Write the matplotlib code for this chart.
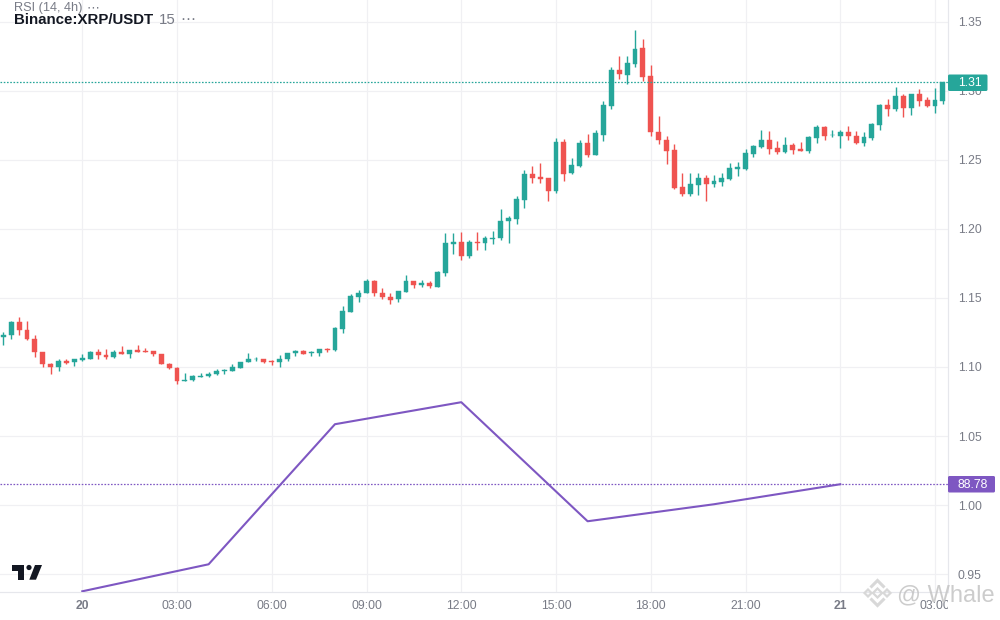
import numpy as np
import matplotlib
matplotlib.use("Agg")
import matplotlib.pyplot as plt
from matplotlib.patches import Polygon, Circle, FancyBboxPatch
from matplotlib.transforms import Bbox

plt.rcParams['font.family'] = ['Liberation Sans', 'DejaVu Sans']

# 15 minute candles, first one is 10 bars before the "20" tick
opens = [1.1215, 1.1230, 1.1329, 1.1271, 1.1205, 1.1111, 1.1024, 1.0998, 1.1046, 1.1034,
         1.1053, 1.1061, 1.1111, 1.1090, 1.1075, 1.1111, 1.1092, 1.1126, 1.1118, 1.1118,
         1.1097, 1.1024, 1.0995, 1.0896, 1.0904, 1.0930, 1.0933, 1.0947, 1.0971, 1.0969,
         1.0995, 1.1034, 1.1056, 1.1061, 1.1046, 1.1034, 1.1056, 1.1099, 1.1118, 1.1101,
         1.1099, 1.1133, 1.1121, 1.1278, 1.1401, 1.1510, 1.1534, 1.1619, 1.1539, 1.1510,
         1.1491, 1.1541, 1.1619, 1.1592, 1.1611, 1.1582, 1.1679, 1.1889, 1.1908, 1.1802,
         1.1908, 1.1896, 1.1925, 1.1932, 1.2056, 1.2070, 1.2208, 1.2394, 1.2372, 1.2365,
         1.2273, 1.2626, 1.2403, 1.2454, 1.2618, 1.2534, 1.2682, 1.2891, 1.3150, 1.3114,
         1.3193, 1.3308, 1.3107, 1.2704, 1.2646, 1.2567, 1.2301, 1.2251, 1.2315, 1.2366,
         1.2323, 1.2337, 1.2358, 1.2430, 1.2430, 1.2538, 1.2589, 1.2646, 1.2582, 1.2553,
         1.2603, 1.2574, 1.2560, 1.2654, 1.2740, 1.2677, 1.2675, 1.2704, 1.2675, 1.2618,
         1.2654, 1.2754, 1.2898, 1.2869, 1.2963, 1.2877, 1.2977, 1.2934, 1.2891, 1.2927]
highs = [1.1256, 1.1336, 1.1365, 1.1336, 1.1234, 1.1111, 1.1032, 1.1061, 1.1061, 1.1061,
         1.1097, 1.1118, 1.1133, 1.1133, 1.1126, 1.1155, 1.1126, 1.1162, 1.1140, 1.1118,
         1.1097, 1.1032, 1.1003, 1.0959, 1.0945, 1.0959, 1.0966, 1.0983, 1.0983, 1.1024,
         1.1039, 1.1104, 1.1075, 1.1061, 1.1053, 1.1090, 1.1104, 1.1126, 1.1126, 1.1114,
         1.1133, 1.1140, 1.1292, 1.1444, 1.1531, 1.1560, 1.1640, 1.1626, 1.1575, 1.1532,
         1.1553, 1.1669, 1.1619, 1.1633, 1.1619, 1.1698, 1.1966, 1.1966, 1.1974, 1.1916,
         1.1974, 1.1945, 1.1981, 1.2140, 1.2089, 1.2234, 1.2423, 1.2452, 1.2473, 1.2365,
         1.2655, 1.2647, 1.2510, 1.2640, 1.2684, 1.2713, 1.2927, 1.3171, 1.3251, 1.3251,
         1.3438, 1.3373, 1.3186, 1.2819, 1.2675, 1.2610, 1.2402, 1.2402, 1.2402, 1.2387,
         1.2387, 1.2402, 1.2474, 1.2481, 1.2574, 1.2603, 1.2718, 1.2711, 1.2632, 1.2661,
         1.2618, 1.2625, 1.2675, 1.2754, 1.2747, 1.2718, 1.2718, 1.2747, 1.2711, 1.2697,
         1.2769, 1.2905, 1.2941, 1.3028, 1.2977, 1.2977, 1.3013, 1.2956, 1.3020, 1.3061]
lows = [1.1157, 1.1201, 1.1230, 1.1193, 1.1070, 1.0998, 1.0947, 1.0969, 1.1019, 1.1005,
        1.1041, 1.1056, 1.1061, 1.1056, 1.1063, 1.1092, 1.1063, 1.1111, 1.1106, 1.1077,
        1.1019, 1.0983, 1.0875, 1.0896, 1.0901, 1.0925, 1.0930, 1.0945, 1.0947, 1.0969,
        1.0995, 1.1034, 1.1041, 1.1027, 1.1012, 1.0998, 1.1041, 1.1077, 1.1092, 1.1077,
        1.1077, 1.1106, 1.1114, 1.1249, 1.1401, 1.1473, 1.1534, 1.1512, 1.1491, 1.1454,
        1.1469, 1.1541, 1.1570, 1.1577, 1.1570, 1.1577, 1.1657, 1.1821, 1.1773, 1.1788,
        1.1846, 1.1846, 1.1889, 1.1918, 1.1896, 1.2034, 1.2150, 1.2331, 1.2331, 1.2200,
        1.2258, 1.2345, 1.2396, 1.2447, 1.2519, 1.2534, 1.2632, 1.2869, 1.3085, 1.3049,
        1.3171, 1.3071, 1.2668, 1.2610, 1.2466, 1.2287, 1.2236, 1.2236, 1.2243, 1.2200,
        1.2301, 1.2308, 1.2351, 1.2380, 1.2423, 1.2517, 1.2582, 1.2538, 1.2538, 1.2546,
        1.2538, 1.2560, 1.2546, 1.2618, 1.2646, 1.2661, 1.2582, 1.2646, 1.2610, 1.2596,
        1.2639, 1.2718, 1.2819, 1.2855, 1.2812, 1.2826, 1.2891, 1.2884, 1.2841, 1.2905]
closes = [1.1234, 1.1329, 1.1266, 1.1201, 1.1106, 1.1019, 1.0998, 1.1046, 1.1032, 1.1061,
          1.1068, 1.1111, 1.1085, 1.1075, 1.1111, 1.1092, 1.1126, 1.1111, 1.1111, 1.1092,
          1.1019, 1.0991, 1.0896, 1.0908, 1.0937, 1.0937, 1.0952, 1.0974, 1.0976, 1.1003,
          1.1039, 1.1061, 1.1061, 1.1039, 1.1034, 1.1061, 1.1104, 1.1118, 1.1092, 1.1106,
          1.1133, 1.1121, 1.1285, 1.1408, 1.1517, 1.1539, 1.1619, 1.1534, 1.1505, 1.1488,
          1.1553, 1.1619, 1.1592, 1.1611, 1.1585, 1.1684, 1.1894, 1.1908, 1.1802, 1.1908,
          1.1896, 1.1930, 1.1937, 1.2060, 1.2075, 1.2213, 1.2394, 1.2367, 1.2360, 1.2273,
          1.2626, 1.2396, 1.2459, 1.2618, 1.2534, 1.2691, 1.2898, 1.3150, 1.3121, 1.3200,
          1.3301, 1.3100, 1.2697, 1.2639, 1.2560, 1.2294, 1.2251, 1.2323, 1.2366, 1.2323,
          1.2344, 1.2366, 1.2438, 1.2445, 1.2546, 1.2596, 1.2646, 1.2574, 1.2553, 1.2603,
          1.2567, 1.2560, 1.2661, 1.2740, 1.2675, 1.2682, 1.2704, 1.2668, 1.2618, 1.2661,
          1.2761, 1.2898, 1.2869, 1.2963, 1.2877, 1.2977, 1.2927, 1.2891, 1.2934, 1.3061]

# RSI (14, 4h), one point every 16 bars starting at the "20" tick
rsi_bars = [0, 16, 32, 48, 64, 80, 96]
rsi_values = [78.08, 80.78, 94.78, 96.98, 85.08, 86.78, 88.78]

price_ticks = [0.95, 1.00, 1.05, 1.10, 1.15, 1.20, 1.25, 1.30, 1.35]
time_ticks = [0, 12, 24, 36, 48, 60, 72, 84, 96, 108]
time_labels = ['20', '03:00', '06:00', '09:00', '12:00', '15:00', '18:00', '21:00', '21', '03:00']

GREEN = '#26a69a'
RED = '#ef5350'
PURPLE = '#7e57c2'
GRID = '#f0f0f3'
LABEL = '#787b86'

fig = plt.figure(figsize=(10, 6.2), dpi=100)
ax = fig.add_axes([0, 1 - 592.3 / 620, 0.948, 592.3 / 620])

bars = np.arange(len(opens)) - 10
opens = np.array(opens)
highs = np.array(highs)
lows = np.array(lows)
closes = np.array(closes)
colors = np.where(closes >= opens, GREEN, RED)

ax.vlines(bars, lows, highs, colors=colors, lw=1.0, zorder=3)
ax.bar(bars, closes - opens, bottom=opens, width=0.62, color=colors, edgecolor=colors, lw=0.3, zorder=4)

ax.set_xlim(-10.42, 109.64)
ax.set_ylim(0.93697, 1.36556)
ax.set_xticks(time_ticks)
ax.set_xticklabels(time_labels)
ax.set_yticks(price_ticks)
ax.set_yticklabels(['%.2f' % p for p in price_ticks])
ax.grid(True, color=GRID, lw=0.85, zorder=0)
ax.set_axisbelow(True)
ax.tick_params(length=0, colors=LABEL, labelsize=8.7)
ax.tick_params(axis='x', pad=5.5)
for s in ['top', 'left']:
    ax.spines[s].set_visible(False)
for s in ['right', 'bottom']:
    ax.spines[s].set_color('#e6e7ec')
    ax.spines[s].set_linewidth(0.85)

# the last time label gets cut off at the price scale
for t in ax.get_xticklabels():
    t.set_clip_box(Bbox([[0, 0], [948, 620]]))
    t.set_clip_on(True)
for t, s in zip(ax.get_xticklabels(), time_labels):
    if len(s) == 2:
        t.set_fontweight('bold')

ax.axhline(closes[-1], color=GREEN, lw=0.9, ls=(0, (1.3, 1.3)), zorder=5)

# RSI overlay has its own hidden scale
ax2 = ax.twinx()
ax2.set_ylim(77.98, 137.18)
ax2.axis('off')
ax2.plot(rsi_bars, rsi_values, color=PURPLE, lw=1.5, zorder=6)
ax2.axhline(rsi_values[-1], color=PURPLE, lw=0.9, ls=(0, (1.3, 1.3)), zorder=5)

# twinx moves the ticks of ax to the left
ax.yaxis.tick_right()
ax.tick_params(axis='y', pad=7, length=0)

# labels, logo and watermark, in pixel coordinates
top = fig.add_axes([0, 0, 1, 1])
top.set_xlim(0, 1000)
top.set_ylim(620, 0)
top.axis('off')
top.patch.set_alpha(0)

top.add_patch(FancyBboxPatch((948, 74.5), 39.5, 16.5, boxstyle='round,pad=0,rounding_size=1.5', fc=GREEN, ec='none'))
top.text(970, 83, '1.31', color='white', fontsize=8.7, ha='center', va='center')
top.add_patch(FancyBboxPatch((948, 476), 47, 16.5, boxstyle='round,pad=0,rounding_size=1.5', fc=PURPLE, ec='none'))
top.text(972.5, 484.5, '88.78', color='white', fontsize=8.7, ha='center', va='center')

top.text(14, 8.5, 'RSI (14, 4h)', color=LABEL, fontsize=9.2, ha='left', va='center')
top.text(87, 8.5, '\u22ef', color=LABEL, fontsize=9.2, ha='left', va='center')
top.text(14, 20, 'Binance:XRP/USDT', color='#131722', fontsize=10.8, fontweight='bold', ha='left', va='center')
top.text(159, 20, '15', color=LABEL, fontsize=10.8, ha='left', va='center')
top.text(180, 20, '\u22ef', color=LABEL, fontsize=10.8, ha='left', va='center')

logo = '#131722'
top.add_patch(Polygon([(12, 565), (24, 565), (24, 579.7), (18, 579.7), (18, 570.7), (12, 570.7)], fc=logo, ec='none'))
top.add_patch(Circle((29, 567.5), 2.6, fc=logo, ec='none'))
top.add_patch(Polygon([(35, 565), (42, 565), (36, 579.7), (29.3, 579.7)], fc=logo, ec='none'))

# watermark
wm = '#d8d8d8'
for cx, cy, r in [(877.5, 593, 4.5), (868, 593, 3.5), (887, 593, 3.5)]:
    top.add_patch(Polygon([(cx - r, cy), (cx, cy - r), (cx + r, cy), (cx, cy + r)], fc='none', ec=wm, lw=1.6))
top.add_patch(Polygon([(870.5, 587.5), (877.5, 580.5), (884.5, 587.5)], closed=False, fc='none', ec=wm, lw=2.2))
top.add_patch(Polygon([(870.5, 598.5), (877.5, 605.5), (884.5, 598.5)], closed=False, fc='none', ec=wm, lw=2.2))
top.text(897, 595, '@ Whale', color='#c4c4c4', alpha=0.85, fontsize=17, ha='left', va='center')

fig.savefig('out.png', dpi=100)
